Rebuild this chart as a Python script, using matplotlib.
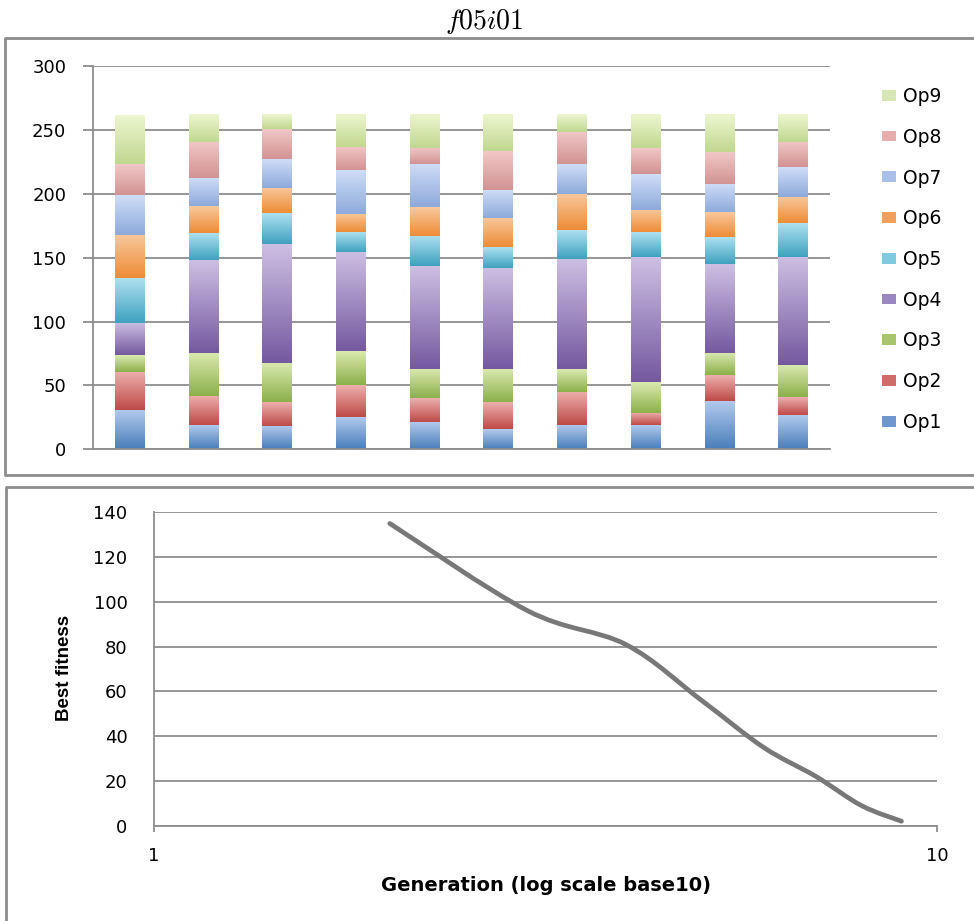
import numpy as np
import matplotlib
matplotlib.use("Agg")
import matplotlib.pyplot as plt
from matplotlib.colors import LinearSegmentedColormap
from matplotlib.lines import Line2D
from matplotlib.patches import PathPatch
from matplotlib.path import Path

plt.rcParams["mathtext.fontset"] = "cm"
plt.rcParams["font.family"] = ["DejaVu Sans"]

# ---- data: operator usage per run (stacked bars) ----
runs = list(range(10))
op_names = ["Op1", "Op2", "Op3", "Op4", "Op5", "Op6", "Op7", "Op8", "Op9"]
op1 = [30.7, 19.0, 18.2, 25.5, 21.6, 15.6, 19.0, 19.0, 38.0, 26.8]
op2 = [29.9, 22.9, 18.5, 24.7, 18.2, 21.1, 26.0, 9.6, 20.0, 13.8]
op3 = [13.0, 33.8, 31.2, 26.5, 22.9, 26.0, 17.7, 24.2, 17.7, 25.2]
op4 = [25.5, 72.6, 92.9, 77.6, 80.6, 79.3, 86.4, 97.6, 69.5, 84.6]
op5 = [34.9, 20.8, 24.2, 15.6, 23.5, 16.2, 22.6, 19.5, 20.8, 26.5]
op6 = [34.0, 21.1, 20.0, 14.3, 22.6, 22.9, 28.6, 17.4, 19.5, 21.1]
op7 = [31.3, 22.1, 22.4, 34.3, 33.8, 22.1, 22.9, 28.1, 22.6, 23.1]
op8 = [23.9, 28.3, 23.1, 18.2, 13.0, 30.4, 25.2, 20.3, 25.0, 19.8]
op9 = [38.2, 21.6, 11.7, 25.5, 26.0, 28.6, 13.8, 26.5, 29.1, 21.3]
op_values = [op1, op2, op3, op4, op5, op6, op7, op8, op9]
bar_ticks = [0, 50, 100, 150, 200, 250, 300]

# ---- data: best fitness vs generation ----
generation = [2, 3, 4, 5, 6, 7, 8, 9]
best_fitness = [135, 96, 81, 56, 35, 22, 9, 2]
fit_ticks = [0, 20, 40, 60, 80, 100, 120, 140]

# Excel-2007 style colours (dark bottom -> light top of each segment)
op_dark = ["#4A7EBB", "#BE4B48", "#8CB04A", "#7559A0", "#3FA2C0",
           "#EE8C37", "#8EAADB", "#D29393", "#C0D890"]
op_light = ["#B3CBEE", "#EDAFAD", "#DAEAB0", "#CDBFE3", "#ADE0F0",
            "#F9C89C", "#CFDDF7", "#F2C7C7", "#EDF6D0"]
op_mid = ["#6E97D2", "#CF6C6A", "#A9C56C", "#9A87C2", "#7ECBE0",
          "#F0A05A", "#A9C0EA", "#E6AFAE", "#D7E6B5"]
GRID = "#8E8E8E"
W, H = 974, 921


def fx(px):
    return px / W


def fy(py):
    return 1 - py / H


def gradient_bars(ax, container, dark, light):
    cmap = LinearSegmentedColormap.from_list("g", [dark, light])
    grad = np.linspace(0, 1, 64).reshape(-1, 1)
    for patch in container:
        x0, y0 = patch.get_x(), patch.get_y()
        ax.imshow(grad, cmap=cmap, origin="lower", aspect="auto",
                  extent=[x0, x0 + patch.get_width(), y0, y0 + patch.get_height()],
                  zorder=2.5, interpolation="bilinear")


fig = plt.figure(figsize=(9.74, 9.21), dpi=100)
fig.text(0.497, fy(21), r"$f05i01$", ha="center", va="center", fontsize=20)

# panel frames (open on the right, cut by the image edge)
frame = dict(transform=fig.transFigure, color="#8C8C8C", lw=2)
fig.add_artist(Line2D([1.02, fx(5), fx(5), 1.02], [fy(38), fy(38), fy(475), fy(475)], **frame))
fig.add_artist(Line2D([1.02, fx(6), fx(6)], [fy(487), fy(487), -0.02], **frame))

# ---- top: stacked bars ----
ax1 = fig.add_axes([fx(92.7), fy(449.3), fx(830) - fx(92.7), fy(66.3) - fy(449.3)])
bottom = np.zeros(len(runs))
handles = []
for name, vals, d, l, m in zip(op_names, op_values, op_dark, op_light, op_mid):
    bars = ax1.bar(runs, vals, 0.4, bottom=bottom, color=m, label=name,
                   zorder=2, linewidth=0)
    gradient_bars(ax1, bars, d, l)
    handles.append(bars)
    bottom += np.array(vals)

ax1.set_xlim(-0.5, 9.5)
ax1.set_ylim(0, 300)
ax1.set_yticks(bar_ticks)
ax1.set_xticks([])
ax1.grid(axis="y", color=GRID, lw=1.3, zorder=0)
ax1.set_axisbelow(True)
for s in ["top", "right"]:
    ax1.spines[s].set_visible(False)
for s in ["left", "bottom"]:
    ax1.spines[s].set_color(GRID)
    ax1.spines[s].set_linewidth(1.3)
ax1.tick_params(axis="y", length=7, width=1.3, color=GRID, pad=12, labelsize=13)

ax1.legend(handles[::-1], op_names[::-1], loc="upper left",
           bbox_to_anchor=(fx(881.7), fy(87)), bbox_transform=fig.transFigure,
           frameon=False, fontsize=13.5, borderpad=0, borderaxespad=0,
           handlelength=0.75, handleheight=0.5, handletextpad=0.4,
           labelspacing=1.16)

# ---- bottom: best fitness curve (log x) ----
ax2 = fig.add_axes([fx(154), fy(825.7), fx(937.3) - fx(154), fy(512.3) - fy(825.7)])
ax2.set_xscale("log")
ax2.set_xlim(1, 10)
ax2.set_ylim(0, 140)
ax2.set_yticks(fit_ticks)
ax2.set_xticks([1, 10])
ax2.set_xticklabels(["1", "10"])
ax2.minorticks_off()
ax2.grid(axis="y", color=GRID, lw=1.3, zorder=0)
ax2.set_axisbelow(True)
for s in ["top", "right"]:
    ax2.spines[s].set_visible(False)
for s in ["left", "bottom"]:
    ax2.spines[s].set_color(GRID)
    ax2.spines[s].set_linewidth(1.3)
ax2.tick_params(axis="y", length=0, pad=19, labelsize=13)
ax2.tick_params(axis="x", length=4, width=1.3, color=GRID, pad=11, labelsize=13)

# smoothed line (Catmull-Rom bezier in log-x space, like Excel's smoothing)
lx = np.log10(generation)
yy = np.array(best_fitness, dtype=float)
n = len(lx)
verts = [(generation[0], yy[0])]
codes = [Path.MOVETO]
for i in range(n - 1):
    a = max(i - 1, 0)
    b = min(i + 2, n - 1)
    c1 = (lx[i] + (lx[i + 1] - lx[a]) / 6, yy[i] + (yy[i + 1] - yy[a]) / 6)
    c2 = (lx[i + 1] - (lx[b] - lx[i]) / 6, yy[i + 1] - (yy[b] - yy[i]) / 6)
    verts += [(10 ** c1[0], c1[1]), (10 ** c2[0], c2[1]), (generation[i + 1], yy[i + 1])]
    codes += [Path.CURVE4] * 3
ax2.add_patch(PathPatch(Path(verts, codes), fill=False, ec="#787878", lw=3.4,
                        capstyle="round", zorder=3))

ax2.set_xlabel("Generation (log scale base10)", fontsize=14, fontweight="bold")
ax2.xaxis.set_label_coords(0.5, (825.7 - 885) / 313.4)
ax2.xaxis.label.set_va("center")
ax2.set_ylabel("Best fitness", fontsize=13.5, fontweight="bold",
               family=["Liberation Sans", "DejaVu Sans"])
ax2.yaxis.set_label_coords((65 - 154) / 783.3, 0.503)
ax2.yaxis.label.set_va("center")

fig.savefig("out.png", dpi=100)
